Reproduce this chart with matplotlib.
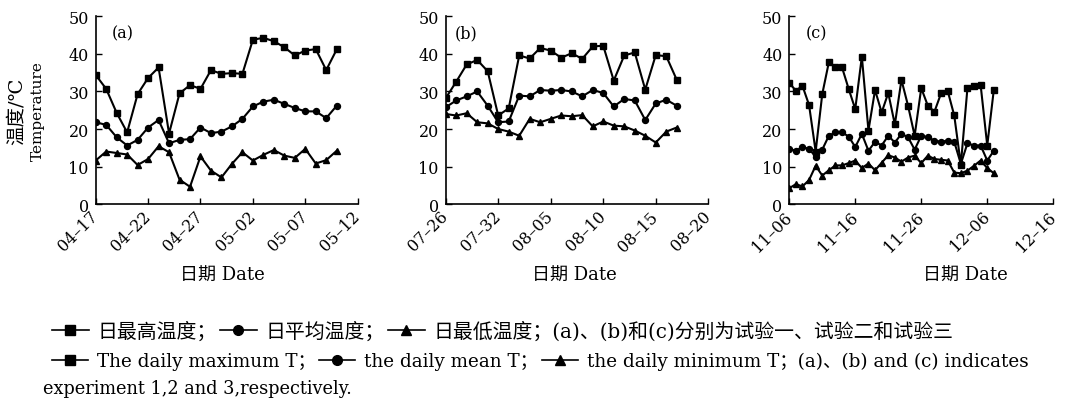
import numpy as np
import matplotlib
matplotlib.use("Agg")
from matplotlib import pyplot as plt
from matplotlib.lines import Line2D

plt.rcParams['font.family'] = ['DejaVu Serif', 'Noto Sans CJK SC']
plt.rcParams['axes.unicode_minus'] = False

# (a) experiment 1, daily from 04-17
a_max = [34.4, 30.7, 24.3, 19.1, 29.3, 33.6, 36.4, 18.8, 29.5, 31.7, 30.7, 35.7,
         34.7, 34.9, 34.7, 43.8, 44.3, 43.4, 41.8, 39.6, 40.9, 41.3, 35.7, 41.2]
a_mean = [21.8, 21.1, 17.8, 15.6, 17.1, 20.4, 22.4, 16.2, 17.1, 17.3, 20.4, 18.9,
          19.3, 20.7, 22.7, 26.0, 27.3, 27.8, 26.7, 25.6, 24.7, 24.7, 22.9, 26.2]
a_min = [11.6, 14.0, 13.6, 13.2, 10.4, 12.0, 15.4, 13.8, 6.5, 4.6, 12.7, 8.9,
         7.1, 10.7, 13.8, 11.6, 13.1, 14.4, 12.9, 12.3, 14.7, 10.8, 11.7, 14.2]
a_ticks = ['04–17', '04–22', '04–27', '05–02', '05–07', '05–12']

# (b) experiment 2, daily from 07-26
b_max = [28.2, 32.6, 37.2, 38.4, 35.4, 23.6, 25.5, 39.6, 38.8, 41.6, 40.9, 39.0,
         40.2, 38.7, 42.0, 42.2, 32.9, 39.6, 40.4, 30.5, 39.7, 39.4, 33.1]
b_mean = [25.8, 27.6, 28.7, 30.0, 26.2, 21.8, 22.0, 28.9, 28.7, 30.4, 30.2, 30.4,
          30.0, 28.7, 30.4, 29.6, 26.0, 28.0, 27.6, 22.4, 26.8, 27.8, 26.2]
b_min = [24.0, 23.6, 24.2, 21.8, 21.5, 20.0, 19.3, 18.2, 22.7, 21.8, 22.7, 23.6,
         23.4, 23.7, 20.7, 22.0, 20.9, 20.7, 19.6, 18.2, 16.4, 19.3, 20.4]
b_ticks = ['07–26', '07–32', '08–05', '08–10', '08–15', '08–20']

# (c) experiment 3, daily from 11-06
c_max = [32.3, 30.2, 31.5, 26.4, 14.0, 29.3, 37.8, 36.4, 36.4, 30.7, 25.3, 39.3,
         19.6, 30.4, 24.4, 29.6, 21.2, 33.1, 26.2, 18.2, 30.9, 26.2, 24.6, 29.5,
         30.2, 23.6, 10.5, 30.9, 31.4, 31.7, 15.6, 30.5]
c_mean = [14.7, 14.2, 15.2, 14.7, 12.6, 14.5, 18.2, 19.1, 19.1, 18.0, 15.2, 18.7,
          14.2, 16.6, 15.6, 18.2, 16.4, 18.7, 17.8, 14.5, 18.2, 17.8, 16.9, 16.6,
          16.9, 16.6, 10.7, 16.2, 15.6, 15.6, 11.6, 14.2]
c_min = [4.2, 5.3, 4.7, 6.4, 10.2, 7.6, 9.0, 10.3, 10.3, 10.9, 11.6, 9.6,
         10.8, 9.0, 11.0, 13.0, 12.4, 11.3, 12.4, 12.9, 10.9, 12.9, 12.0, 11.8,
         11.6, 8.4, 8.2, 8.9, 10.2, 11.6, 9.6, 8.2]
c_ticks = ['11–06', '11–16', '11–26', '12–06', '12–16']

panels = [
    ('(a)', a_max, a_mean, a_min, a_ticks, 5, [0.0897, 0.495, 0.2455, 0.462], 0.062, 0.482),
    ('(b)', b_max, b_mean, b_min, b_ticks, 5, [0.4177, 0.495, 0.2461, 0.462], 0.035, 0.489),
    ('(c)', c_max, c_mean, c_min, c_ticks, 10, [0.7397, 0.495, 0.2474, 0.462], 0.063, 0.669),
]

fig = plt.figure(figsize=(10.67, 4.06), dpi=100)

for name, ymax, ymean, ymin, ticks, step, pos, tx, lx in panels:
    ax = fig.add_axes(pos)
    x = np.arange(len(ymax))
    ax.plot(x, ymax, color='black', lw=1.5, marker='s', ms=5)
    ax.plot(x, ymean, color='black', lw=1.5, marker='o', ms=4.3)
    ax.plot(x, ymin, color='black', lw=1.5, marker='^', ms=4.8)
    xt = np.arange(len(ticks)) * step
    ax.set_xlim(0, xt[-1])
    ax.set_ylim(0, 50)
    ax.set_xticks(xt)
    ax.set_xticklabels(ticks, rotation=45, ha='right', va='center',
                       rotation_mode='anchor', fontsize=11.5)
    ax.set_yticks(range(0, 51, 10))
    ax.tick_params(axis='y', labelsize=11.5)
    ax.tick_params(direction='in', length=4, width=1, pad=5)
    ax.tick_params(axis='x', pad=7)
    for s in ['top', 'right']:
        ax.spines[s].set_visible(False)
    for s in ['left', 'bottom']:
        ax.spines[s].set_linewidth(1.2)
    ax.text(tx, 0.912, name, transform=ax.transAxes, fontsize=11.5,
            ha='left', va='center')
    ax.text(lx, -0.379, '日期 Date', transform=ax.transAxes, fontsize=13,
            ha='center', va='center')

fig.text(17 / 1067, 1 - 111 / 406, '温度/℃', rotation=90, fontsize=14,
         ha='center', va='center')
fig.text(38 / 1067, 1 - 111 / 406, 'Temperature', rotation=90, fontsize=11,
         ha='center', va='center')

handles = [Line2D([], [], color='black', lw=1.2, marker='s', ms=7),
           Line2D([], [], color='black', lw=1.2, marker='o', ms=7),
           Line2D([], [], color='black', lw=1.2, marker='^', ms=7)]

cn_labels = ['日最高温度；', '日平均温度；',
             '日最低温度；(a)、(b)和(c)分别为试验一、试验二和试验三']
en_labels = ['The daily maximum T；', 'the daily mean T；',
             'the daily minimum T；(a)、(b) and (c) indicates']

fam = ['DejaVu Serif', 'Noto Sans CJK SC']
leg_kw = dict(ncol=3, loc='center left', frameon=False,
              borderpad=0, borderaxespad=0)
fig.legend(handles, cn_labels, bbox_to_anchor=(52 / 1067, 1 - 332 / 406),
           handlelength=1.85, handletextpad=0.45, columnspacing=0.15,
           prop=dict(family=fam, size=14.3), **leg_kw)
fig.legend(handles, en_labels, bbox_to_anchor=(52 / 1067, 1 - 362 / 406),
           handlelength=1.95, handletextpad=0.5, columnspacing=0.2,
           prop=dict(family=fam, size=13.2), **leg_kw)
fig.text(43 / 1067, 1 - 389 / 406, 'experiment 1,2 and 3,respectively.',
         fontsize=12.8, ha='left', va='center')

fig.savefig('out.png', dpi=100)
